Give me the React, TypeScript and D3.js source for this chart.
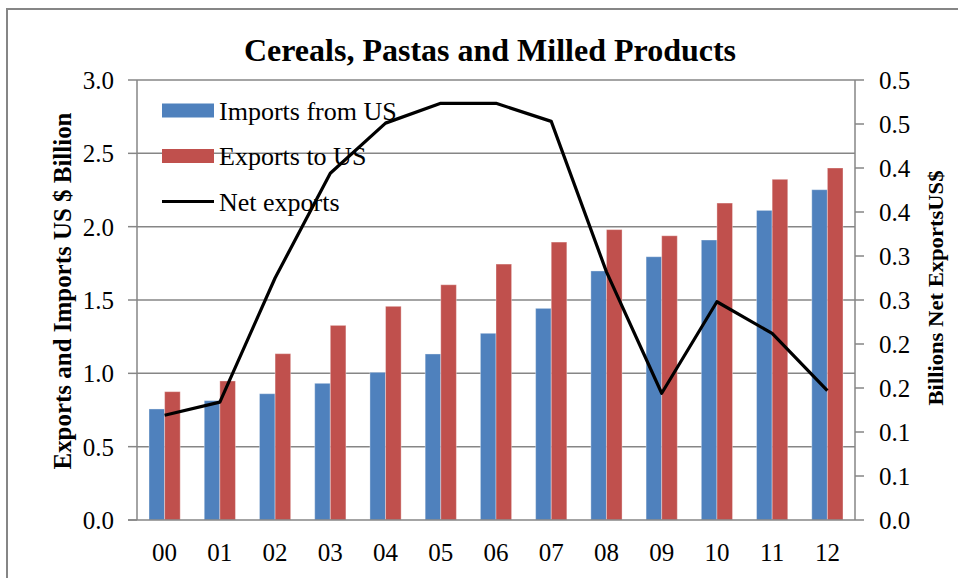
import React from "react";
import * as d3 from "d3";

// Years (two-digit labels)
const years = ["00", "01", "02", "03", "04", "05", "06", "07", "08", "09", "10", "11", "12"];

// US $ billion
const importsFromUS = [0.757, 0.814, 0.861, 0.932, 1.007, 1.132, 1.273, 1.443, 1.698, 1.795, 1.909, 2.111, 2.252];
const exportsToUS = [0.875, 0.948, 1.134, 1.327, 1.457, 1.604, 1.745, 1.895, 1.98, 1.938, 2.161, 2.323, 2.4];

// Billions US$ (right axis)
const netExports = [0.119, 0.134, 0.275, 0.394, 0.451, 0.4735, 0.4735, 0.453, 0.282, 0.144, 0.248, 0.212, 0.147];

const leftTickValues = [0, 0.5, 1, 1.5, 2, 2.5, 3];
const leftTickLabels = ["0.0", "0.5", "1.0", "1.5", "2.0", "2.5", "3.0"];
const rightTickValues = [0, 0.05, 0.1, 0.15, 0.2, 0.25, 0.3, 0.35, 0.4, 0.45, 0.5];
const rightTickLabels = ["0.0", "0.1", "0.1", "0.2", "0.2", "0.3", "0.3", "0.4", "0.4", "0.5", "0.5"];

const seriesNames = ["Imports from US", "Exports to US"];
const seriesColors = ["#4F81BD", "#C0504D"];

const W = 958;
const H = 578;
const plot = { left: 137, right: 855, top: 80, bottom: 520 };
const FONT = "'Liberation Serif', 'Times New Roman', serif";
const AXIS = "#868686";

export default function App() {
  const x = d3.scaleBand<string>().domain(years).range([plot.left, plot.right]).padding(0);
  const bw = x.bandwidth();
  const barW = 15.6;
  const xs = d3
    .scaleBand<string>()
    .domain(seriesNames)
    .range([bw / 2 - barW, bw / 2 + barW])
    .padding(0);
  const yL = d3.scaleLinear().domain([0, 3]).range([plot.bottom, plot.top]);
  const yR = d3.scaleLinear().domain([0, 0.5]).range([plot.bottom, plot.top]);

  const seriesData = [importsFromUS, exportsToUS];

  const line = d3
    .line<number>()
    .x((_, i) => (x(years[i]) as number) + bw / 2)
    .y((d) => yR(d));

  const legendX = 162;
  const legendRows = [110.5, 156, 201.5];

  return (
    <svg
      width={W}
      height={H}
      style={{ position: "absolute", left: 0, top: 0, background: "#fff" }}
      fontFamily={FONT}
    >
      <rect x={0} y={0} width={W} height={H} fill="#fff" />
      {/* chart border */}
      <path d={`M7,${H + 5} V9 H${W + 5}`} fill="none" stroke={AXIS} strokeWidth={2} />

      {/* title */}
      <text x={490} y={61} textAnchor="middle" fontSize={32} fontWeight="bold" fill="#000">
        Cereals, Pastas and Milled Products
      </text>

      {/* gridlines */}
      {leftTickValues.slice(1).map((v) => (
        <line key={"g" + v} x1={plot.left} x2={plot.right} y1={yL(v)} y2={yL(v)} stroke={AXIS} strokeWidth={1.5} />
      ))}

      {/* bars */}
      {seriesData.map((vals, s) =>
        vals.map((v, i) => (
          <rect
            key={`b${s}-${i}`}
            x={(x(years[i]) as number) + (xs(seriesNames[s]) as number)}
            y={yL(v)}
            width={xs.bandwidth()}
            height={yL(0) - yL(v)}
            fill={seriesColors[s]}
            stroke="rgba(255,255,255,0.35)"
            strokeWidth={1}
          />
        ))
      )}

      {/* axes */}
      <line x1={plot.left} x2={plot.left} y1={plot.top} y2={plot.bottom} stroke={AXIS} strokeWidth={1.5} />
      <line x1={plot.right} x2={plot.right} y1={plot.top} y2={plot.bottom} stroke={AXIS} strokeWidth={1.5} />
      <line x1={plot.left - 9} x2={plot.right} y1={plot.bottom} y2={plot.bottom} stroke={AXIS} strokeWidth={1.5} />

      {leftTickValues.map((v, i) => (
        <g key={"lt" + v}>
          <line x1={plot.left - 9} x2={plot.left} y1={yL(v)} y2={yL(v)} stroke={AXIS} strokeWidth={1.5} />
          <text x={114} y={yL(v) + 9} textAnchor="end" fontSize={25} fill="#000">
            {leftTickLabels[i]}
          </text>
        </g>
      ))}

      {rightTickValues.map((v, i) => (
        <g key={"rt" + v}>
          <line x1={plot.right} x2={plot.right + 9} y1={yR(v)} y2={yR(v)} stroke={AXIS} strokeWidth={1.5} />
          <text x={879} y={yR(v) + 9} textAnchor="start" fontSize={25} fill="#000">
            {rightTickLabels[i]}
          </text>
        </g>
      ))}

      {years.map((yr) => (
        <text key={"x" + yr} x={(x(yr) as number) + bw / 2} y={561} textAnchor="middle" fontSize={25} fill="#000">
          {yr}
        </text>
      ))}

      {/* net exports line */}
      <path d={line(netExports) || ""} fill="none" stroke="#000" strokeWidth={3.2} strokeLinejoin="round" />

      {/* axis titles */}
      <text
        transform={`translate(71,291) rotate(-90)`}
        textAnchor="middle"
        fontSize={26}
        fontWeight="bold"
        fill="#000"
        textLength={357}
        lengthAdjust="spacingAndGlyphs"
      >
        Exports and Imports US $ Billion
      </text>
      <text
        transform={`translate(943,288) rotate(-90)`}
        textAnchor="middle"
        fontSize={22}
        fontWeight="bold"
        fill="#000"
        textLength={235}
        lengthAdjust="spacingAndGlyphs"
      >
        Billions Net ExportsUS$
      </text>

      {/* legend */}
      {seriesNames.map((n, i) => (
        <g key={"lg" + n}>
          <rect x={legendX} y={legendRows[i] - 7} width={52} height={14} fill={seriesColors[i]} />
          <text x={219} y={legendRows[i] + 9} fontSize={26} fill="#000">
            {n}
          </text>
        </g>
      ))}
      <line x1={legendX} x2={legendX + 52} y1={legendRows[2]} y2={legendRows[2]} stroke="#000" strokeWidth={3.2} />
      <text x={219} y={legendRows[2] + 9} fontSize={26} fill="#000">
        Net exports
      </text>
    </svg>
  );
}
